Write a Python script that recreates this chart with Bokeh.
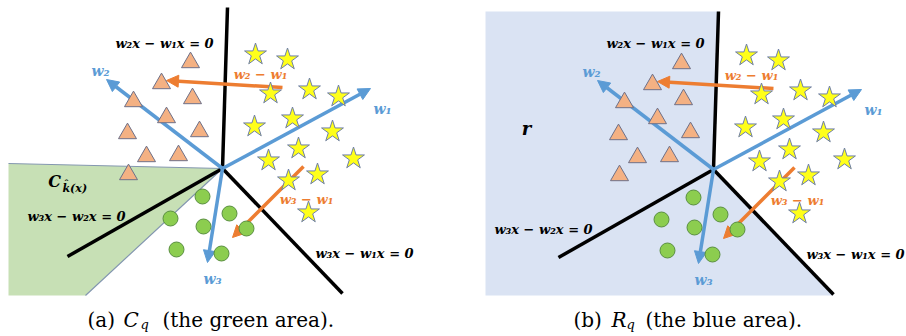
from bokeh.plotting import figure
from bokeh.models import Range1d, Arrow, NormalHead, ColumnDataSource
from bokeh.core.properties import value
from bokeh.embed import file_html
from bokeh.resources import INLINE

# ---------------- diagram data (panel (a) pixel space) ----------------
center_x = [222]
center_y = [168]
boundary_end_x = [227, 67, 342]
boundary_end_y = [7, 256, 293]

weight_labels = ["w₁", "w₂", "w₃"]
weight_tip_x = [370, 106, 207]
weight_tip_y = [88, 79, 262]
weight_label_x = [382, 100, 212]
weight_label_y = [108, 70, 278]

diff_labels = ["w₂ − w₁", "w₃ − w₁"]
diff_start_x = [282, 303]
diff_start_y = [87, 166]
diff_end_x = [166, 232]
diff_end_y = [80, 237]
diff_label_x = [260, 306]
diff_label_y = [74, 199]

star_x = [255, 287, 270, 309, 338, 254, 292, 332, 298, 268, 353, 288, 317, 308]
star_y = [54, 59, 93, 89, 96, 126, 118, 131, 148, 160, 158, 180, 174, 212]
tri_x = [190, 161, 192, 133, 166, 127, 199, 146, 178, 128]
tri_y = [62, 83, 98, 101, 117, 133, 131, 156, 155, 174]
circ_x = [202, 170, 229, 203, 246, 176, 221]
circ_y = [196, 218, 213, 226, 228, 249, 253]

eq_labels = ["w₂x − w₁x = 0", "w₃x − w₂x = 0", "w₃x − w₁x = 0"]
eq_a_x = [164, 76, 364]
eq_a_y = [43, 216, 253]
eq_b_x = [655, 543, 855]
eq_b_y = [43, 229, 254]

green_x = [8, 222, 85, 8]
green_y = [163, 168, 295, 295]
blue_x = [485, 718, 713, 833, 485]
blue_y = [11, 11, 169, 295, 295]
b_vertical_top = (718, 11)

panel_b_dx = 491
panel_b_dy = 1

BLUE = "#5b9bd5"
ORANGE = "#ed7d31"
LABEL_FONT = "DejaVu Serif"

p = figure(width=906, height=336, x_range=Range1d(0, 906), y_range=Range1d(336, 0),
           min_border=0, toolbar_location=None, output_backend="svg",
           x_axis_location=None, y_axis_location=None)
p.grid.visible = False
p.outline_line_color = None
p.background_fill_color = "white"
p.border_fill_color = "white"

# regions
p.patch(green_x, green_y, fill_color="#c7e0b5", line_color=None)
p.line([green_x[0], green_x[1], green_x[2]], [green_y[0], green_y[1], green_y[2]],
       line_color="#8497b0", line_width=1.2)
p.patch(blue_x, blue_y, fill_color="#dae3f3", line_color=None)


def draw_panel(dx, dy, vtop, eq_x, eq_y):
    cx, cy = center_x[0] + dx, center_y[0] + dy
    ends_x = [e + dx for e in boundary_end_x]
    ends_y = [e + dy for e in boundary_end_y]
    if vtop is not None:
        ends_x[0], ends_y[0] = vtop
    p.segment(x0=[cx] * 3, y0=[cy] * 3, x1=ends_x, y1=ends_y,
              line_color="black", line_width=3.5)

    wsrc = ColumnDataSource(dict(x0=[cx] * 3, y0=[cy] * 3,
                                 x1=[t + dx for t in weight_tip_x],
                                 y1=[t + dy for t in weight_tip_y]))
    p.add_layout(Arrow(source=wsrc, x_start="x0", y_start="y0", x_end="x1", y_end="y1",
                       line_color=BLUE, line_width=3.5,
                       end=NormalHead(size=12, fill_color=BLUE, line_color=BLUE)))
    dsrc = ColumnDataSource(dict(x0=[s + dx for s in diff_start_x],
                                 y0=[s + dy for s in diff_start_y],
                                 x1=[s + dx for s in diff_end_x],
                                 y1=[s + dy for s in diff_end_y]))
    p.add_layout(Arrow(source=dsrc, x_start="x0", y_start="y0", x_end="x1", y_end="y1",
                       line_color=ORANGE, line_width=3.5,
                       end=NormalHead(size=12, fill_color=ORANGE, line_color=ORANGE)))

    p.scatter([x + dx for x in star_x], [y + dy for y in star_y], marker="star", size=23,
              fill_color="#ffff1a", line_color="#6f7fa6", line_width=1, level="overlay")
    p.scatter([x + dx for x in tri_x], [y + dy for y in tri_y], marker="triangle", size=18,
              fill_color="#f4b183", line_color="#6e7088", line_width=1, level="overlay")
    p.scatter([x + dx for x in circ_x], [y + dy for y in circ_y], marker="circle", size=15,
              fill_color="#8ccd4f", line_color="#5a8f41", line_width=1, level="overlay")

    p.text([x + dx for x in weight_label_x], [y + dy for y in weight_label_y], text=weight_labels,
           text_color=BLUE, text_font=value(LABEL_FONT), text_font_style="bold italic",
           text_font_size="14px", text_align="center", text_baseline="middle", level="overlay")
    p.text([x + dx for x in diff_label_x], [y + dy for y in diff_label_y], text=diff_labels,
           text_color=ORANGE, text_font=value(LABEL_FONT), text_font_style="bold italic",
           text_font_size="13px", text_align="center", text_baseline="middle", level="overlay")
    p.text(eq_x, eq_y, text=eq_labels,
           text_color="black", text_font=value(LABEL_FONT), text_font_style="bold italic",
           text_font_size="13px", text_align="center", text_baseline="middle", level="overlay")


draw_panel(0, 0, None, eq_a_x, eq_a_y)
draw_panel(panel_b_dx, panel_b_dy, b_vertical_top, eq_b_x, eq_b_y)

# region names
p.text([54], [181], text=["C"], text_font=value(LABEL_FONT), text_font_style="bold italic",
       text_font_size="16px", text_align="center", text_baseline="middle", level="overlay")
p.text([62], [188], text=["k(x)"], text_font=value(LABEL_FONT), text_font_style="bold italic",
       text_font_size="11px", text_align="left", text_baseline="middle", level="overlay")
p.text([66], [183], text=["ˆ"], text_font=value(LABEL_FONT), text_font_style="bold",
       text_font_size="10px", text_align="center", text_baseline="middle", level="overlay")
p.text([526], [128], text=["r"], text_font=value(LABEL_FONT), text_font_style="bold italic",
       text_font_size="18px", text_align="center", text_baseline="middle", level="overlay")

# captions
CAP_FONT = "DejaVu Serif"
cap_y = 319
p.text([87, 573], [cap_y, cap_y], text=["(a)", "(b)"], text_font=value(CAP_FONT),
       text_font_size="20px", text_align="left", text_baseline="middle")
p.text([123, 611], [cap_y, cap_y], text=["C", "R"], text_font=value(CAP_FONT),
       text_font_style="italic", text_font_size="20px", text_align="left", text_baseline="middle")
p.text([140, 626], [cap_y + 5, cap_y + 5], text=["q", "q"], text_font=value(CAP_FONT),
       text_font_style="italic", text_font_size="13px", text_align="left", text_baseline="middle")
p.text([162, 645], [cap_y, cap_y], text=["(the green area).", "(the blue area)."],
       text_font=value(CAP_FONT), text_font_size="20px", text_align="left", text_baseline="middle")

open("out.html", "w").write(file_html(p, INLINE))
